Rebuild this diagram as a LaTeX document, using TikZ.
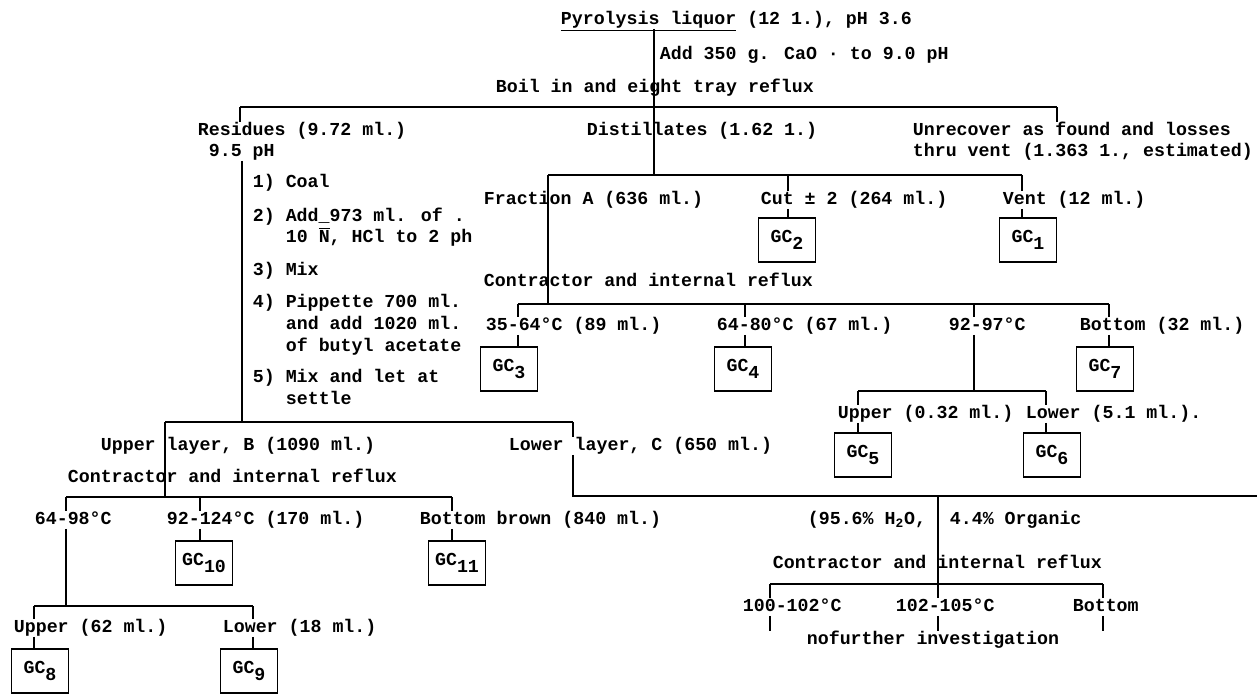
\documentclass[tikz,border=0pt]{standalone}
\usepackage{fontspec}
\newfontfamily\typewr{Liberation Mono}
\newcommand{\gcnum}[1]{GC\raisebox{-0.8ex}{#1}}

\begin{document}
\begin{tikzpicture}[x=0.02cm,y=-0.02cm,line width=1pt,
    every node/.style={font=\typewr\bfseries\fontsize{10.4}{12}\selectfont,inner sep=0pt},
    lbl/.style={anchor=west,text height=0.72em,text depth=0.2em},
    gcbox/.style={draw,minimum width=1.14cm,minimum height=0.88cm}]
  \useasboundingbox (0,0) rectangle (1257,693);

  \node[lbl] (title) at (560,20) {\underline{Pyrolysis liquor} (12 1.), pH 3.6};
  \node[lbl] (add) at (659,55) {Add 350 g. CaO · to 9.0 pH};
  \node[lbl] (boil) at (495,88) {Boil in and eight tray reflux};
  \coordinate (b1l) at (240,107);
  \coordinate (b1m) at (654,107);
  \coordinate (b1r) at (1057,107);
  \draw (title.south -| b1m) -- (b1m);
  \draw (b1l) -- (b1r);

  \node[lbl] (resid) at (197,131) {Residues (9.72 ml.)};
  \node[lbl] (residph) at (208,152) {9.5 pH};
  \node[lbl] (dist) at (586,131) {Distillates (1.62 1.)};
  \node[lbl] (unrec) at (912,131) {Unrecover as found and losses};
  \node[lbl] (unrecb) at (912,152) {thru vent (1.363 1., estimated)};
  \draw (b1l) -- (resid.north -| b1l);
  \draw (b1r) -- (unrec.north -| b1r);

  \foreach \x/\y/\txt [count=\i] in {
    252/183/{1) Coal},
    252/217/{2) Add\_973 ml. of .},
    285/238/{10 $\overline{\mbox{N}}$, HCl to 2 ph},
    252/271/{3) Mix},
    252/303/{4) Pippette 700 ml.},
    285/325/{and add 1020 ml.},
    285/347/{of butyl acetate},
    252/378/{5) Mix and let at},
    285/400/{settle}
  } {
    \node[lbl] (step\i) at (\x,\y) {\txt};
  }
  \coordinate (resbar) at (242,422);
  \draw (residph.south -| resbar) -- (resbar);

  % distillates
  \coordinate (b2l) at (548,175);
  \coordinate (b2c) at (788,175);
  \coordinate (b2r) at (1022,175);
  \draw (b1m) -- (b1m |- b2l);
  \draw (b2l) -- (b2r);
  \node[lbl] (fracA) at (483,200) {Fraction A (636 ml.)};
  \node[lbl] (cut) at (760,200) {Cut ± 2 (264 ml.)};
  \node[lbl] (vent) at (1002,200) {Vent (12 ml.)};
  \node[gcbox] (gc2) at (787,240) {\gcnum{2}};
  \node[gcbox] (gc1) at (1028,240) {\gcnum{1}};
  \draw (b2c) -- (cut.north -| b2c) (cut.south -| b2c) -- (gc2.north -| b2c);
  \draw (b2r) -- (vent.north -| b2r) (vent.south -| b2r) -- (gc1.north -| b2r);

  \node[lbl] (contrA) at (483,282) {Contractor and internal reflux};
  \coordinate (b3l) at (518,304);
  \coordinate (b3a) at (745,304);
  \coordinate (b3b) at (974,304);
  \coordinate (b3r) at (1109,304);
  \draw (b2l) -- (b2l |- b3l);
  \draw (b3l) -- (b3r);
  \node[lbl] (frA1) at (485,326) {35-64°C (89 ml.)};
  \node[lbl] (frA2) at (716,326) {64-80°C (67 ml.)};
  \node[lbl] (frA3) at (948,326) {92-97°C};
  \node[lbl] (frA4) at (1079,326) {Bottom (32 ml.)};
  \node[gcbox] (gc3) at (509,369) {\gcnum{3}};
  \node[gcbox] (gc4) at (743,369) {\gcnum{4}};
  \node[gcbox] (gc7) at (1105,369) {\gcnum{7}};
  \draw (b3l) -- (frA1.north -| b3l) (frA1.south -| b3l) -- (gc3.north -| b3l);
  \draw (b3a) -- (frA2.north -| b3a) (frA2.south -| b3a) -- (gc4.north -| b3a);
  \draw (b3r) -- (frA4.north -| b3r) (frA4.south -| b3r) -- (gc7.north -| b3r);

  \coordinate (b5l) at (858,391);
  \coordinate (b5r) at (1046,391);
  \draw (b3b) -- (frA3.north -| b3b) (frA3.south -| b3b) -- (b3b |- b5l);
  \draw (b5l) -- (b5r);
  \node[lbl] (upA) at (837,414) {Upper (0.32 ml.)};
  \node[lbl] (loA) at (1025,414) {Lower (5.1 ml.).};
  \node[gcbox] (gc5) at (863,455) {\gcnum{5}};
  \node[gcbox] (gc6) at (1052,455) {\gcnum{6}};
  \draw (b5l) -- (upA.north -| b5l) (upA.south -| b5l) -- (gc5.north -| b5l);
  \draw (b5r) -- (loA.north -| b5r) (loA.south -| b5r) -- (gc6.north -| b5r);

  % residues
  \coordinate (b6l) at (165,422);
  \coordinate (b6r) at (573,422);
  \draw (b6l) -- (b6r);
  \node[lbl] (upB) at (100,446) {Upper layer, B (1090 ml.)};
  \node[lbl] (loC) at (508,446) {Lower layer, C (650 ml.)};
  \node[lbl] (contrB) at (67,478) {Contractor and internal reflux};
  \coordinate (b7l) at (66,497);
  \coordinate (b7c) at (200,497);
  \coordinate (b7r) at (452,497);
  \draw (b6l) -- (b6l |- b7l);
  \draw (b7l) -- (b7r);
  \node[lbl] (frB1) at (34,520) {64-98°C};
  \node[lbl] (frB2) at (166,520) {92-124°C (170 ml.)};
  \node[lbl] (frB3) at (419,520) {Bottom brown (840 ml.)};
  \node[gcbox] (gc10) at (204,563) {\gcnum{10}};
  \node[gcbox] (gc11) at (457,563) {\gcnum{11}};
  \draw (b7l) -- (frB1.north -| b7l);
  \draw (b7c) -- (frB2.north -| b7c) (frB2.south -| b7c) -- (gc10.north -| b7c);
  \draw (b7r) -- (frB3.north -| b7r) (frB3.south -| b7r) -- (gc11.north -| b7r);

  \coordinate (b8l) at (34,606);
  \coordinate (b8r) at (253,606);
  \draw (frB1.south -| b7l) -- (b7l |- b8l);
  \draw (b8l) -- (b8r);
  \node[lbl] (upC) at (13,628) {Upper (62 ml.)};
  \node[lbl] (loD) at (222,628) {Lower (18 ml.)};
  \node[gcbox] (gc8) at (40,671) {\gcnum{8}};
  \node[gcbox] (gc9) at (249,671) {\gcnum{9}};
  \draw (b8l) -- (upC.north -| b8l) (upC.south -| b8l) -- (gc8.north -| b8l);
  \draw (b8r) -- (loD.north -| b8r) (loD.south -| b8r) -- (gc9.north -| b8r);

  % lower layer
  \coordinate (b9l) at (573,496);
  \coordinate (b9m) at (938,496);
  \coordinate (b9r) at (1257,496);
  \draw (b6r) -- (loC.north -| b6r) (loC.south -| b6r) -- (b9l) -- (b9r);
  \node[lbl] (aqua) at (807,520) {(95.6\% H\textsubscript{2}O,};
  \node[lbl] (orga) at (949,520) {4.4\% Organic};
  \node[lbl] (contrC) at (772,564) {Contractor and internal reflux};
  \coordinate (b10l) at (770,584);
  \coordinate (b10m) at (938,584);
  \coordinate (b10r) at (1103,584);
  \draw (b9m) -- (b10m);
  \draw (b10l) -- (b10r);
  \node[lbl] (frC1) at (742,607) {100-102°C};
  \node[lbl] (frC2) at (895,607) {102-105°C};
  \node[lbl] (frC3) at (1072,607) {Bottom};
  \node[lbl] (nofur) at (806,640) {nofurther investigation};
  \draw (b10l) -- (frC1.north -| b10l) (frC1.south -| b10l) -- (b10l |- nofur.north);
  \draw (b10m) -- (frC2.north -| b10m) (frC2.south -| b10m) -- (b10m |- nofur.north);
  \draw (b10r) -- (frC3.north -| b10r) (frC3.south -| b10r) -- (b10r |- nofur.north);
\end{tikzpicture}
\end{document}
